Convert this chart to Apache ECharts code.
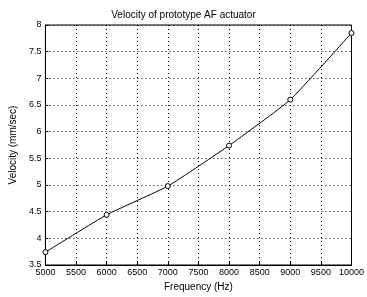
<!DOCTYPE html>
<html>
<head>
<meta charset="utf-8">
<script src="https://cdn.jsdelivr.net/npm/echarts@6/dist/echarts.min.js"></script>
<style>
  html, body { margin: 0; padding: 0; background: #fff; }
  #main { width: 367px; height: 297px; }
</style>
</head>
<body>
<div id="main"></div>
<script>
// frequency (Hz) and measured velocity (mm/sec)
const frequency = [5000, 6000, 7000, 8000, 9000, 10000];
const velocity = [3.74, 4.44, 4.98, 5.74, 6.6, 7.85];

const chart = echarts.init(document.getElementById('main'));
const font = 'Liberation Sans, Arial, sans-serif';
const dotted = { show: true, lineStyle: { color: '#000', type: [1, 3], width: 1 } };

chart.setOption({
  backgroundColor: '#fff',
  animation: false,
  title: {
    text: 'Velocity of prototype AF actuator',
    left: 'center',
    top: 5,
    textStyle: { fontSize: 10, fontWeight: 'normal', color: '#000', fontFamily: font }
  },
  grid: {
    left: 38, right: 11, top: 25, bottom: 29,
    show: true, borderColor: '#000', borderWidth: 1
  },
  xAxis: {
    type: 'value',
    min: 5000, max: 10000, interval: 500,
    name: 'Frequency (Hz)',
    nameLocation: 'middle',
    nameGap: 17,
    nameTextStyle: { fontSize: 10, color: '#000', fontFamily: font },
    axisLine: { show: true, lineStyle: { color: '#000' } },
    axisTick: { show: true, inside: true, length: 3, lineStyle: { color: '#000' } },
    axisLabel: { fontSize: 9, color: '#000', fontFamily: font, margin: 3, formatter: v => String(v) },
    splitLine: dotted
  },
  yAxis: {
    type: 'value',
    min: 3.5, max: 8, interval: 0.5,
    name: 'Velocity (mm/sec)',
    nameLocation: 'middle',
    nameGap: 22,
    nameTextStyle: { fontSize: 10, color: '#000', fontFamily: font },
    axisLine: { show: true, lineStyle: { color: '#000' } },
    axisTick: { show: true, inside: true, length: 3, lineStyle: { color: '#000' } },
    axisLabel: { fontSize: 9, color: '#000', fontFamily: font, margin: 4 },
    splitLine: dotted
  },
  series: [{
    type: 'line',
    data: frequency.map((f, i) => [f, velocity[i]]),
    smooth: 0.15,
    symbol: 'circle',
    symbolSize: 5,
    itemStyle: { color: '#fff', borderColor: '#000', borderWidth: 1 },
    lineStyle: { color: '#000', width: 1 }
  }]
});
</script>
</body>
</html>
